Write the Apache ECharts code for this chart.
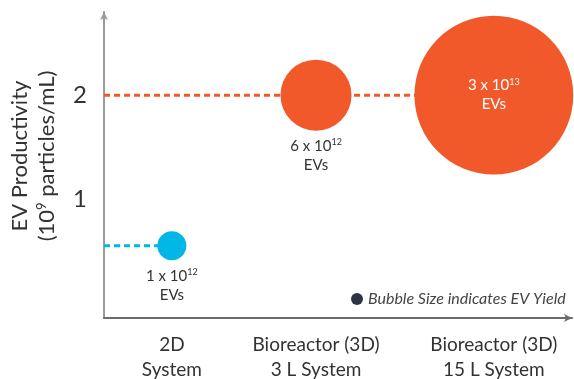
<!DOCTYPE html>
<html>
<head>
<meta charset="utf-8">
<script src="https://cdn.jsdelivr.net/npm/echarts@6/dist/echarts.min.js"></script>
<style>
  html, body { margin: 0; padding: 0; background: #fff; }
  #chart { width: 574px; height: 379px; }
</style>
</head>
<body>
<div id="chart"></div>
<script>
// Culture systems compared
const categories = ['2D\nSystem', 'Bioreactor (3D)\n3 L System', 'Bioreactor (3D)\n15 L System'];
// EV productivity, 10^9 particles/mL
const productivity = [0.55, 2, 2];
// Total EV yield per system (drives bubble size)
const evYield = [1e12, 6e12, 3e13];
// Y-axis tick labels
const yTicks = [1, 2];

// Horizontal placement of each system along the x axis (axis runs 0..10)
const categoryCenters = [1.45, 4.53, 8.33];

const ORANGE = '#F1592A';
const BLUE = '#00B7E5';
const TEXT = '#333333';
const FONT = 'Lato, "Open Sans", sans-serif';

const colorFor = i => (productivity[i] >= 1 ? ORANGE : BLUE);

function yieldParts(v) {
  const e = Math.floor(Math.log10(v));
  const m = Math.round(v / Math.pow(10, e));
  return { m, e };
}

const bubbleRich = {
  n: { fontSize: 15, lineHeight: 19, fontFamily: FONT },
  sup: { fontSize: 9, lineHeight: 19, fontFamily: FONT, padding: [0, 0, 8, 0] }
};

const bubbles = productivity.map((p, i) => {
  const inside = i === productivity.length - 1;
  const col = inside ? '#ffffff' : TEXT;
  return {
    value: [categoryCenters[i], p, evYield[i]],
    itemStyle: { color: colorFor(i), opacity: 1 },
    label: {
      show: true,
      position: inside ? 'inside' : 'bottom',
      distance: 6,
      color: col,
      rich: Object.fromEntries(Object.entries(bubbleRich).map(([k, s]) =>
        [k, Object.assign({}, s, { color: col })]))
    }
  };
});

// Dashed guide lines from the y axis to each productivity level,
// running to the furthest bubble at that level
const guideSeries = [];
const lastAtLevel = {};
productivity.forEach((p, i) => { lastAtLevel[p] = i; });
Object.keys(lastAtLevel).forEach(k => {
  const i = lastAtLevel[k];
  guideSeries.push({
    type: 'line',
    silent: true,
    symbol: 'none',
    z: 1,
    data: [[0, productivity[i]], [categoryCenters[i], productivity[i]]],
    lineStyle: { color: colorFor(i), width: 3, type: [6, 4] }
  });
});

const chart = echarts.init(document.getElementById('chart'), null, { renderer: 'canvas' });

chart.setOption({
  animation: false,
  backgroundColor: '#ffffff',
  textStyle: { fontFamily: FONT },
  grid: { left: 104, right: 2, top: 12, bottom: 61, containLabel: false, outerBoundsMode: 'none' },
  legend: {
    left: 346,
    top: 286,
    itemWidth: 12,
    itemHeight: 12,
    selectedMode: false,
    data: [{ name: 'Bubble Size indicates EV Yield', icon: 'circle', itemStyle: { color: '#2F3441', opacity: 1 } }],
    textStyle: { fontFamily: FONT, fontStyle: 'italic', fontSize: 16, color: '#444444' }
  },
  xAxis: {
    type: 'value',
    min: 0,
    max: 10,
    splitLine: { show: false },
    axisTick: { show: false },
    axisLine: {
      show: true,
      onZero: false,
      symbol: ['none', 'arrow'],
      symbolSize: [6, 8],
      lineStyle: { color: '#6b6b6b', width: 2 }
    },
    axisLabel: {
      customValues: categoryCenters,
      margin: 14,
      fontSize: 19,
      lineHeight: 25,
      color: TEXT,
      fontFamily: FONT,
      formatter: v => {
        let best = 0;
        categoryCenters.forEach((c, i) => {
          if (Math.abs(c - v) < Math.abs(categoryCenters[best] - v)) best = i;
        });
        return categories[best];
      }
    }
  },
  yAxis: {
    type: 'value',
    min: -0.144,
    max: 2.8,
    splitLine: { show: false },
    axisTick: { show: false },
    axisLine: {
      show: true,
      onZero: false,
      symbol: ['none', 'arrow'],
      symbolSize: [6, 8],
      lineStyle: { color: '#9a9a9a', width: 2 }
    },
    axisLabel: {
      customValues: yTicks,
      margin: 17,
      fontSize: 24,
      color: TEXT,
      fontFamily: FONT,
      formatter: v => String(v)
    },
    name: '{a|EV Productivity}\n{a|(10}{s|9}{a| particles/mL)}',
    nameLocation: 'middle',
    nameRotate: 90,
    nameGap: 44,
    nameTextStyle: {
      padding: [0, 0, 0, 18],
      rich: {
        a: { fontSize: 22, lineHeight: 27, color: TEXT, fontFamily: FONT },
        s: { fontSize: 13, lineHeight: 27, color: TEXT, fontFamily: FONT, padding: [0, 0, 10, 0] }
      }
    }
  },
  series: guideSeries.concat([{
    name: 'Bubble Size indicates EV Yield',
    type: 'scatter',
    z: 3,
    symbol: 'circle',
    symbolSize: d => 29 * Math.sqrt(d[2] / 1e12),
    itemStyle: { opacity: 1 },
    label: {
      formatter: p => {
        const { m, e } = yieldParts(p.value[2]);
        return `{n|${m} x 10}{sup|${e}}\n{n|EVs}`;
      }
    },
    data: bubbles
  }])
});
</script>
</body>
</html>
